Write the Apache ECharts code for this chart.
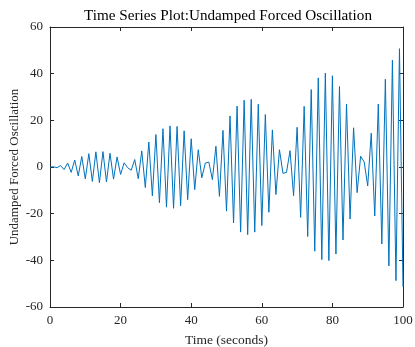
<!DOCTYPE html>
<html>
<head>
<meta charset="utf-8">
<script src="https://cdn.jsdelivr.net/npm/echarts@6/dist/echarts.min.js"></script>
<style>
  html, body { margin: 0; padding: 0; background: #ffffff; }
  #chart { width: 415px; height: 347px; }
</style>
</head>
<body>
<div id="chart"></div>
<script>
// Sample times (s) and displacement of the undamped forced oscillator
const timeSeconds = [
  0, 1, 2, 3, 4, 5, 6, 7, 8, 9,
  10, 11, 12, 13, 14, 15, 16, 17, 18, 19,
  20, 21, 22, 23, 24, 25, 26, 27, 28, 29,
  30, 31, 32, 33, 34, 35, 36, 37, 38, 39,
  40, 41, 42, 43, 44, 45, 46, 47, 48, 49,
  50, 51, 52, 53, 54, 55, 56, 57, 58, 59,
  60, 61, 62, 63, 64, 65, 66, 67, 68, 69,
  70, 71, 72, 73, 74, 75, 76, 77, 78, 79,
  80, 81, 82, 83, 84, 85, 86, 87, 88, 89,
  90, 91, 92, 93, 94, 95, 96, 97, 98, 99,
  100
];
const displacement = [
  0, 0.1, -0.3, 0.6, -1.1, 1.7, -2.3, 3.0, -3.8, 4.5,
  -5.1, 5.7, -6.2, 6.5, -6.7, 6.6, -6.4, 5.9, -5.2, 4.3,
  -3.2, 1.8, -0.3, -1.4, 3.2, -5.0, 6.9, -8.8, 10.7, -12.4,
  13.9, -15.3, 16.4, -17.2, 17.6, -17.7, 17.4, -16.6, 15.5, -14.0,
  12.1, -9.7, 7.4, -4.6, 1.7, 2.1, -5.4, 8.9, -12.6, 15.7,
  -18.9, 21.9, -24.0, 26.1, -27.9, 28.6, -29.0, 29.0, -27.9, 26.9,
  -25.1, 22.5, -19.4, 15.9, -11.8, 7.4, -2.7, -2.3, 7.0, -12.3,
  17.0, -21.6, 26.0, -29.8, 33.2, -36.1, 38.2, -39.7, 40.2, -40.1,
  39.1, -37.3, 34.5, -31.3, 27.0, -22.3, 16.8, -11.0, 4.6, 2.2,
  -8.1, 14.5, -21.0, 27.0, -33.0, 37.6, -42.4, 45.8, -48.7, 50.7,
  -51.4
];
// Axis ranges and tick spacing
const xRange = [0, 100];
const xStep = 20;
const yRange = [-60, 60];
const yStep = 20;

const serif = "'Liberation Serif', 'Times New Roman', serif";
const ink = '#262626';

const points = timeSeconds.map((t, i) => [t, displacement[i]]);

function frameAxis(extra) {
  return Object.assign({
    type: 'value',
    axisLine: { show: true, onZero: false, lineStyle: { color: ink, width: 1 } },
    axisTick: { show: true, inside: true, length: 4, lineStyle: { color: ink, width: 1 } },
    splitLine: { show: false },
    axisLabel: { show: false }
  }, extra);
}

const chart = echarts.init(document.getElementById('chart'), null, { renderer: 'canvas' });
chart.setOption({
  animation: false,
  backgroundColor: '#ffffff',
  title: {
    text: 'Time Series Plot:Undamped Forced Oscillation',
    left: 223,
    top: 4,
    textAlign: 'center',
    textStyle: { fontFamily: serif, fontSize: 15.2, fontWeight: 'normal', color: '#000000' }
  },
  grid: { left: 50, right: 12, top: 27, bottom: 40, containLabel: false, outerBoundsMode: 'none' },
  xAxis: [
    frameAxis({
      position: 'bottom', min: xRange[0], max: xRange[1], interval: xStep,
      axisLabel: { show: true, fontFamily: serif, fontSize: 13, color: ink, margin: 7 },
      name: 'Time (seconds)', nameLocation: 'middle', nameGap: 26, nameMoveOverlap: false,
      nameTextStyle: { fontFamily: serif, fontSize: 13.5, color: ink }
    }),
    frameAxis({ position: 'top', min: xRange[0], max: xRange[1], interval: xStep })
  ],
  yAxis: [
    frameAxis({
      position: 'left', min: yRange[0], max: yRange[1], interval: yStep,
      axisLabel: { show: true, fontFamily: serif, fontSize: 13, color: ink, margin: 7 },
      name: 'Undamped Forced Oscillation', nameLocation: 'middle', nameGap: 29, nameRotate: 90,
      nameMoveOverlap: false,
      nameTextStyle: { fontFamily: serif, fontSize: 13, color: ink }
    }),
    frameAxis({ position: 'right', min: yRange[0], max: yRange[1], interval: yStep })
  ],
  series: [{
    type: 'line',
    xAxisIndex: 0,
    yAxisIndex: 0,
    data: points,
    showSymbol: false,
    symbol: 'none',
    lineStyle: { color: '#0072BD', width: 1 }
  }]
});
</script>
</body>
</html>
